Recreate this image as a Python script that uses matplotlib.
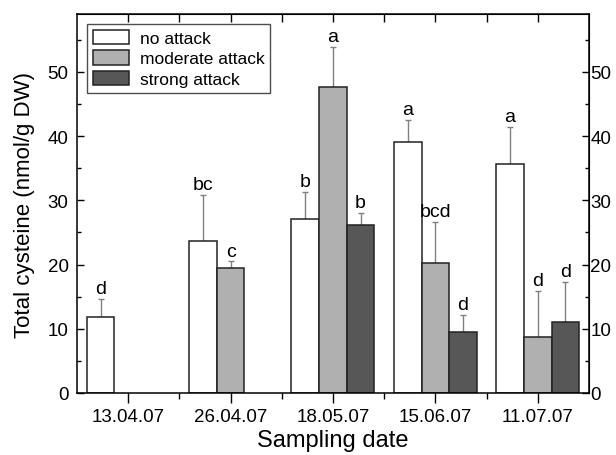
import numpy as np
import matplotlib.pyplot as plt
from matplotlib.ticker import MultipleLocator

plt.rcParams['font.family'] = ['Liberation Sans', 'DejaVu Sans']

dates = ['13.04.07', '26.04.07', '18.05.07', '15.06.07', '11.07.07']
series = ['no attack', 'moderate attack', 'strong attack']

# mean values (nan = no sample)
no_attack = [11.8, 23.6, 27.1, 39.1, 35.6]
moderate = [np.nan, 19.5, 47.7, 20.3, 8.7]
strong = [np.nan, np.nan, 26.2, 9.5, 11.1]

# upper error (SD)
no_err = [2.8, 7.3, 4.2, 3.4, 5.8]
mod_err = [np.nan, 1.0, 6.2, 6.3, 7.2]
str_err = [np.nan, np.nan, 1.9, 2.6, 6.2]

# significance letters
no_let = ['d', 'bc', 'b', 'a', 'a']
mod_let = ['', 'c', 'a', 'bcd', 'd']
str_let = ['', '', 'b', 'd', 'd']

colors = ['white', '#b0b0b0', '#575757']

fig = plt.figure(figsize=(6.16, 4.56), dpi=100)
ax = fig.add_axes([0.125, 0.136, 0.831, 0.831])

x = np.arange(1, len(dates) + 1)
w = 0.27
vals = [no_attack, moderate, strong]
errs = [no_err, mod_err, str_err]
lets = [no_let, mod_let, str_let]

for i in range(3):
    xs = x + (i - 1) * w
    v = np.array(vals[i])
    e = np.array(errs[i])
    ax.bar(xs, v, width=w, color=colors[i], edgecolor='#222222',
           linewidth=1.1, label=series[i], zorder=2)
    ax.errorbar(xs, v, yerr=[np.zeros_like(e), e], fmt='none',
                ecolor='#808080', elinewidth=1.0, capsize=2.5, capthick=1.0, zorder=1)
    for xi, vi, ei, l in zip(xs, v, e, lets[i]):
        if l:
            ax.text(xi, vi + ei + 0.9, l, ha='center', va='baseline', fontsize=14)

ax.set_xlim(0.5, 5.5)
ax.set_ylim(0, 59)
ax.set_xticks(x)
ax.set_xticklabels(dates)
ax.set_xticks(x[:-1] + 0.5, minor=True)
ax.yaxis.set_major_locator(MultipleLocator(10))
ax.yaxis.set_minor_locator(MultipleLocator(5))

ax.tick_params(axis='x', which='major', direction='out', length=7, width=1, top=False,
               labelsize=13.5, pad=4)
ax.tick_params(axis='x', which='minor', direction='out', length=4, width=1, top=False)
ax.tick_params(axis='y', which='major', direction='in', length=5, width=1,
               left=True, right=False, labelsize=13.5, pad=6)
ax.tick_params(axis='y', which='minor', direction='in', length=3, width=1, left=True, right=False)
ax.xaxis.offsetText.set_visible(False)
ax.yaxis.offsetText.set_visible(False)

# top ticks pointing inward
top = ax.secondary_xaxis('top')
top.set_xticks(list(x) + list(x[:-1] + 0.5))
top.tick_params(direction='in', length=6, width=1, labeltop=False)
top.set_xticklabels([])
top.xaxis.offsetText.set_visible(False)

# right axis with its own (tighter) label pad
right = ax.secondary_yaxis('right')
right.yaxis.set_major_locator(MultipleLocator(10))
right.yaxis.set_minor_locator(MultipleLocator(5))
right.tick_params(which='major', direction='in', length=5, width=1, labelsize=13.5, pad=1)
right.tick_params(which='minor', direction='in', length=3, width=1)
right.yaxis.offsetText.set_visible(False)

for s in ax.spines.values():
    s.set_linewidth(1.1)

ax.set_xlabel('Sampling date', fontsize=17, labelpad=3)
ax.set_ylabel('Total cysteine (nmol/g DW)', fontsize=16, labelpad=9)

leg = ax.legend(loc='upper left', fontsize=12.5, frameon=True, fancybox=False,
                edgecolor='#222222', handlelength=2.1, handleheight=0.9,
                handletextpad=0.6, borderaxespad=0.55, labelspacing=0.25, borderpad=0.35)
leg.get_frame().set_linewidth(1.0)

fig.savefig('out.png', dpi=100)
